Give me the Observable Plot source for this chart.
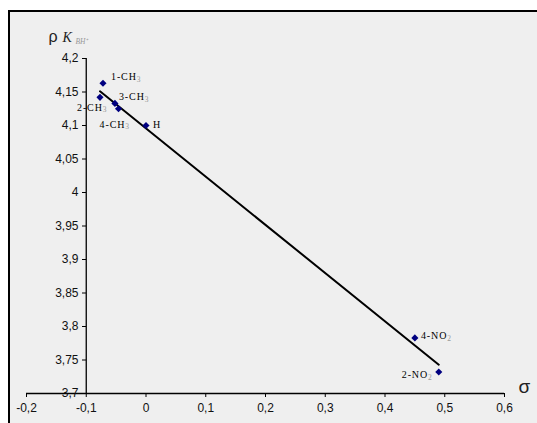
<!DOCTYPE html>
<html>
<head>
<meta charset="utf-8">
<script src="https://cdn.jsdelivr.net/npm/d3@7"></script>
<script src="https://cdn.jsdelivr.net/npm/@observablehq/plot@0.6"></script>
<style>
  html, body { margin: 0; padding: 0; background: #fff; }
  #wrap { position: relative; width: 537px; height: 423px; overflow: hidden; }
  #panel { position: absolute; left: 8px; top: 10px; width: 560px; height: 460px;
           border: 2px solid #000; background: #efefef; box-sizing: border-box; }
  #chart { position: absolute; left: 0; top: 0; }
  #chart svg { background: transparent; }
</style>
</head>
<body>
<div id="wrap"><div id="panel"></div><div id="chart"></div></div>
<script>
// Data
const names = ["1-CH₃", "2-CH₃", "3-CH₃", "4-CH₃", "H", "4-NO₂", "2-NO₂"];
const sigma = [-0.072, -0.077, -0.052, -0.046, 0, 0.45, 0.49];
const pK    = [4.163, 4.142, 4.133, 4.125, 4.10, 3.783, 3.732];
// regression line end points
const lineX = [-0.077, 0.49];
const lineY = [4.151, 3.743];
// tick labels
const xTicks = [-0.2, -0.1, 0, 0.1, 0.2, 0.3, 0.4, 0.5, 0.6];
const yTicks = [3.7, 3.75, 3.8, 3.85, 3.9, 3.95, 4, 4.05, 4.1, 4.15, 4.2];

const pts = names.map((n, i) => ({name: n, x: sigma[i], y: pK[i]}));
const reg = lineX.map((x, i) => ({x, y: lineY[i]}));
const fmt = d => String(d).replace(".", ",");

// label placement (pixel offsets from the point)
const place = {
  "1-CH₃": [8, -6, "start"],
  "2-CH₃": [-23, 10, "start"],
  "3-CH₃": [4, -6.5, "start"],
  "4-CH₃": [-19, 16, "start"],
  "H":     [7, -1, "start"],
  "4-NO₂": [6, -2, "start"],
  "2-NO₂": [-6, 3, "end"]
};

const sans = "Liberation Sans, Arial, sans-serif";
const serif = "Liberation Serif, Times New Roman, serif";

const chart = Plot.plot({
  width: 537, height: 423,
  marginLeft: 86, marginRight: 33, marginTop: 58, marginBottom: 30,
  x: {domain: [-0.2, 0.6], range: [26, 504]},
  y: {domain: [3.7, 4.2], range: [393, 58]},
  style: {background: "transparent", overflow: "visible"},
  marks: [
    Plot.ruleY([3.7], {x1: -0.2, x2: 0.6, stroke: "#000", strokeWidth: 1.3}),
    Plot.ruleX([-0.1], {y1: 3.7, y2: 4.2, stroke: "#000", strokeWidth: 1.3}),
    Plot.axisY({ticks: yTicks, anchor: "left", tickSize: 4, tickPadding: 4, tickFormat: fmt,
                label: null, fontSize: 12, fontFamily: sans, fill: "#111", stroke: "#000"}),
    Plot.axisX({ticks: xTicks, anchor: "bottom", tickSize: 4, tickPadding: 6, tickFormat: fmt,
                label: null, fontSize: 12, fontFamily: sans, fill: "#111", stroke: "#000"}),
    Plot.line(reg, {x: "x", y: "y", stroke: "#000", strokeWidth: 2}),
    Plot.dot(pts, {x: "x", y: "y", symbol: "diamond2", r: 3.2, fill: "#000080", stroke: null}),
    ...pts.map(p => Plot.text([p], {
      x: "x", y: "y", text: "name",
      dx: place[p.name][0], dy: place[p.name][1], textAnchor: place[p.name][2],
      fontSize: 10, fontFamily: serif, fill: "#000"
    })),
    // axis titles
    Plot.text(["ρ"], {frameAnchor: "top-left", dx: -38, dy: -28, textAnchor: "start",
                      fontSize: 16, fontFamily: sans, fill: "#222"}),
    Plot.text(["K"], {frameAnchor: "top-left", dx: -24, dy: -26, textAnchor: "start",
                      fontSize: 14, fontFamily: serif, fontStyle: "italic", fill: "#222"}),
    Plot.text(["ВН⁺"], {frameAnchor: "top-left", dx: -11, dy: -20, textAnchor: "start",
                      fontSize: 7.5, fontFamily: serif, fontStyle: "italic", fill: "#999"}),
    Plot.text(["σ"], {frameAnchor: "bottom-right", dx: 14, dy: -1, textAnchor: "start",
                      fontSize: 19, fontFamily: sans, fill: "#222"})
  ]
});
document.getElementById("chart").appendChild(chart);

// grey subscripts and letter spacing for point labels
const subDigit = {"₂": "2", "₃": "3"};
d3.select(chart).selectAll("text").each(function() {
  const t = this.textContent;
  if (this.childElementCount === 0 && (/[₂₃]/.test(t) || t === "H")) {
    const sel = d3.select(this);
    sel.style("letter-spacing", "0.9px");
    const m = t.match(/^(.*?)([₂₃])$/);
    if (m) {
      sel.text(null);
      sel.append("tspan").text(m[1]);
      sel.append("tspan").attr("fill", "#999").attr("font-size", 7.5)
         .attr("dy", 1.5).text(subDigit[m[2]]);
    }
  }
});
</script>
</body>
</html>
